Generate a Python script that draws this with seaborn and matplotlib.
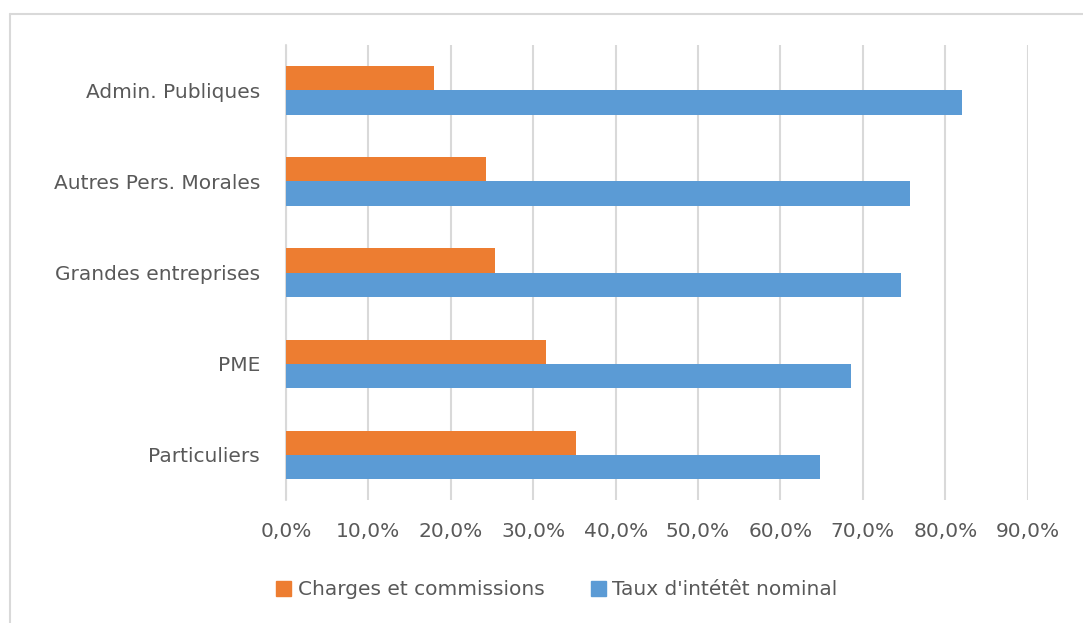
import pandas as pd
import seaborn as sns
import matplotlib.pyplot as plt
from matplotlib.ticker import FuncFormatter
from matplotlib.patches import Patch
from matplotlib.lines import Line2D

categories = ['Admin. Publiques', 'Autres Pers. Morales', 'Grandes entreprises', 'PME', 'Particuliers']
charges = [18.0, 24.3, 25.4, 31.5, 35.2]
taux = [82.0, 75.7, 74.6, 68.5, 64.8]
series = ['Charges et commissions', "Taux d'intétêt nominal"]
colors = ['#ED7D31', '#5B9BD5']

df = pd.DataFrame({
    'cat': categories * 2,
    'serie': [series[0]] * 5 + [series[1]] * 5,
    'val': charges + taux,
})

sns.set_style('white')
plt.rcParams['font.family'] = ['DejaVu Sans']
fs = 14.5

fig = plt.figure(figsize=(10.83, 6.23), dpi=100)
ax = fig.add_axes([0.264, 0.197, 0.685, 0.731])

sns.barplot(data=df, y='cat', x='val', hue='serie', order=categories,
            hue_order=series, palette=colors, saturation=1, orient='h',
            width=0.53, gap=0, linewidth=0, ax=ax, legend=False)

ax.set_xlim(0, 90)
ax.set_xticks(range(0, 100, 10))
ax.xaxis.set_major_formatter(FuncFormatter(lambda v, p: f'{v:.1f}%'.replace('.', ',')))
ax.grid(axis='x', color='#d9d9d9', linewidth=1.5)
ax.axvline(0, color='#d9d9d9', linewidth=1.5, clip_on=False, zorder=0)
ax.set_axisbelow(True)
for s in ax.spines.values():
    s.set_visible(False)
ax.set_xlabel('')
ax.set_ylabel('')
ax.tick_params(axis='both', length=0, colors='#595959', labelsize=fs)
ax.tick_params(axis='x', pad=16)
ax.tick_params(axis='y', pad=18.5)

# outer chart frame (only top and left visible in the crop)
fig.add_artist(Line2D([10 / 1083, 1], [1 - 14 / 623] * 2, color='#d9d9d9', lw=1.5))
fig.add_artist(Line2D([10 / 1083] * 2, [0, 1 - 14 / 623], color='#d9d9d9', lw=1.5))

handles = [Patch(color=c, label=s) for c, s in zip(colors, series)]
fig.legend(handles=handles, loc='center', bbox_to_anchor=(0.514, 0.053), ncol=2,
           frameon=False, fontsize=fs, handlelength=0.75, handleheight=0.75,
           handletextpad=0.3, columnspacing=2.3, labelcolor='#595959')

fig.savefig('out.png', dpi=100)
